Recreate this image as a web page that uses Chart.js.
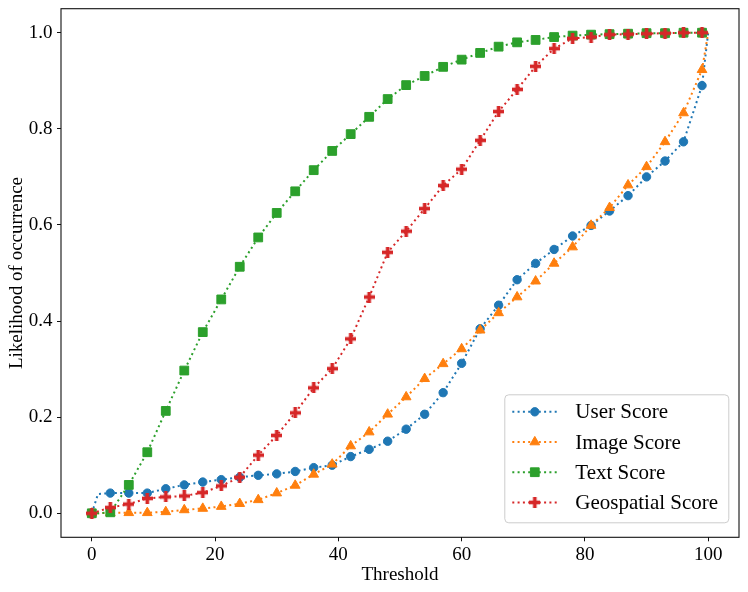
<!DOCTYPE html>
<html>
<head>
<meta charset="utf-8">
<script src="https://cdn.jsdelivr.net/npm/chart.js@4.4.1/dist/chart.umd.min.js"></script>
<style>
  html, body { margin: 0; padding: 0; background: #fff; }
  #wrap { width: 748px; height: 592px; }
</style>
</head>
<body>
<div id="wrap"><canvas id="chart"></canvas></div>
<script>
// thresholds (x) and the four score curves
const thresholds = [0, 1, 3, 6, 9, 12, 15, 18, 21, 24, 27, 30, 33, 36, 39, 42, 45, 48,
  51, 54, 57, 60, 63, 66, 69, 72, 75, 78, 81, 84, 87, 90, 93, 96, 99, 100];

const userScore = [0.0, 0.040, 0.042, 0.042, 0.042, 0.051, 0.059, 0.065, 0.070, 0.075,
  0.079, 0.082, 0.087, 0.095, 0.100, 0.118, 0.133, 0.150, 0.175, 0.206, 0.251, 0.312,
  0.384, 0.433, 0.486, 0.520, 0.549, 0.577, 0.599, 0.629, 0.661, 0.700, 0.733, 0.773,
  0.890, 1.0];

const imageScore = [0.0, 0.0, 0.001, 0.001, 0.001, 0.003, 0.007, 0.010, 0.014, 0.020,
  0.028, 0.042, 0.058, 0.081, 0.102, 0.140, 0.169, 0.206, 0.242, 0.280, 0.311, 0.342,
  0.381, 0.417, 0.450, 0.483, 0.520, 0.554, 0.599, 0.636, 0.683, 0.721, 0.773, 0.833,
  0.923, 1.0];

const textScore = [0.0, 0.0, 0.002, 0.059, 0.127, 0.213, 0.297, 0.377, 0.445, 0.513,
  0.574, 0.625, 0.670, 0.714, 0.754, 0.789, 0.825, 0.862, 0.891, 0.910, 0.929, 0.944,
  0.958, 0.971, 0.980, 0.985, 0.991, 0.994, 0.996, 0.997, 0.998, 0.999, 0.999, 1.0,
  1.0, 1.0];

const geoScore = [0.0, 0.004, 0.012, 0.019, 0.031, 0.034, 0.036, 0.043, 0.057, 0.075,
  0.121, 0.162, 0.209, 0.261, 0.301, 0.363, 0.450, 0.543, 0.587, 0.634, 0.682, 0.716,
  0.776, 0.836, 0.882, 0.930, 0.967, 0.988, 0.991, 0.996, 0.997, 0.998, 0.999, 1.0,
  1.0, 1.0];

const xTicks = [0, 20, 40, 60, 80, 100];
const yTicks = [0.0, 0.2, 0.4, 0.6, 0.8, 1.0];

const FONT = "'Liberation Serif', 'Times New Roman', serif";

// filled plus marker ('P' style)
function plusMarker(color, size) {
  const c = document.createElement('canvas');
  c.width = size; c.height = size;
  const g = c.getContext('2d');
  const arm = size / 3;
  g.fillStyle = color;
  g.fillRect(0, arm, size, arm);
  g.fillRect(arm, 0, arm, size);
  return c;
}

// markers only every 3rd threshold, not on the helper points at 1 and 100
const hasMarker = i => thresholds[i] % 3 === 0 && thresholds[i] < 100;

function series(label, values, color, pointStyle, radius, order) {
  return {
    label,
    data: thresholds.map((t, i) => ({ x: t, y: values[i] })),
    borderColor: color,
    backgroundColor: color,
    borderWidth: 2,
    borderDash: [2, 3.3],
    pointStyle,
    markerRadius: radius,
    pointRadius: ctx => hasMarker(ctx.dataIndex) ? radius : 0,
    pointBorderWidth: 1,
    pointBorderColor: color,
    pointBackgroundColor: color,
    tension: 0,
    order
  };
}

const datasets = [
  series('User Score', userScore, '#1f77b4', 'circle', 4.2, 3),
  series('Image Score', imageScore, '#ff7f0e', 'triangle', 5.6, 2),
  series('Text Score', textScore, '#2ca02c', 'rect', 6.2, 1),
  series('Geospatial Score', geoScore, '#d62728', plusMarker('#d62728', 11), 5, 0)
];

const framePlugin = {
  id: 'frame',
  afterDraw(chart) {
    const { ctx, chartArea: a } = chart;
    ctx.save();
    ctx.strokeStyle = '#111';
    ctx.lineWidth = 1.1;
    ctx.strokeRect(a.left, a.top, a.right - a.left, a.bottom - a.top);

    // legend box in the lower right corner
    const w = 224, h = 128;
    const bx = a.right - 10.7 - w, by = a.bottom - 15 - h;
    ctx.beginPath();
    ctx.roundRect(bx + 0.5, by + 0.5, w, h, 4);
    ctx.fillStyle = 'rgba(255,255,255,0.8)';
    ctx.fill();
    ctx.strokeStyle = '#cccccc';
    ctx.lineWidth = 1;
    ctx.stroke();

    chart.data.datasets.forEach((ds, i) => {
      const y = by + 17.5 + i * 30.2;
      ctx.setLineDash(ds.borderDash);
      ctx.strokeStyle = ds.borderColor;
      ctx.lineWidth = ds.borderWidth;
      ctx.beginPath();
      ctx.moveTo(bx + 8, y);
      ctx.lineTo(bx + 53, y);
      ctx.stroke();
      ctx.setLineDash([]);
      ctx.fillStyle = ds.backgroundColor;
      ctx.strokeStyle = ds.borderColor;
      ctx.lineWidth = 1;
      Chart.helpers.drawPoint(ctx, { pointStyle: ds.pointStyle, radius: ds.markerRadius, borderWidth: 1, rotation: 0 }, bx + 30.5, y);
      ctx.fillStyle = '#000';
      ctx.font = '21px ' + FONT;
      ctx.textBaseline = 'middle';
      ctx.textAlign = 'left';
      ctx.fillText(ds.label, bx + 71, y + 1);
    });
    ctx.restore();
  }
};

new Chart(document.getElementById('chart'), {
  type: 'line',
  data: { datasets },
  options: {
    responsive: true,
    maintainAspectRatio: false,
    animation: false,
    layout: { padding: { top: 8.7, right: 9, left: 0, bottom: 0 } },
    plugins: { legend: { display: false }, tooltip: { enabled: false } },
    scales: {
      x: {
        type: 'linear',
        min: -5,
        max: 105,
        afterBuildTicks: s => { s.ticks = xTicks.map(v => ({ value: v })); },
        afterFit: s => { s.height = 54.7; s.paddingLeft = 0; s.paddingRight = 0; },
        grid: { drawOnChartArea: false, drawTicks: true, tickLength: 4, color: '#111' },
        border: { display: false },
        ticks: { color: '#000', padding: 2, font: { family: FONT, size: 19 }, callback: v => String(v) },
        title: { display: true, text: 'Threshold', color: '#000', font: { family: FONT, size: 19 }, padding: { bottom: 5.3 } }
      },
      y: {
        min: -0.05,
        max: 1.05,
        afterBuildTicks: s => { s.ticks = yTicks.map(v => ({ value: v })); },
        afterFit: s => { s.width = 61; s.paddingTop = 0; s.paddingBottom = 0; },
        grid: { drawOnChartArea: false, drawTicks: true, tickLength: 4, color: '#111' },
        border: { display: false },
        ticks: { color: '#000', padding: 4.5, font: { family: FONT, size: 19 }, callback: v => v.toFixed(1) },
        title: { display: true, text: 'Likelihood of occurrence', color: '#000', font: { family: FONT, size: 19 }, padding: { top: 5.6 } }
      }
    }
  },
  plugins: [framePlugin]
});
</script>
</body>
</html>
